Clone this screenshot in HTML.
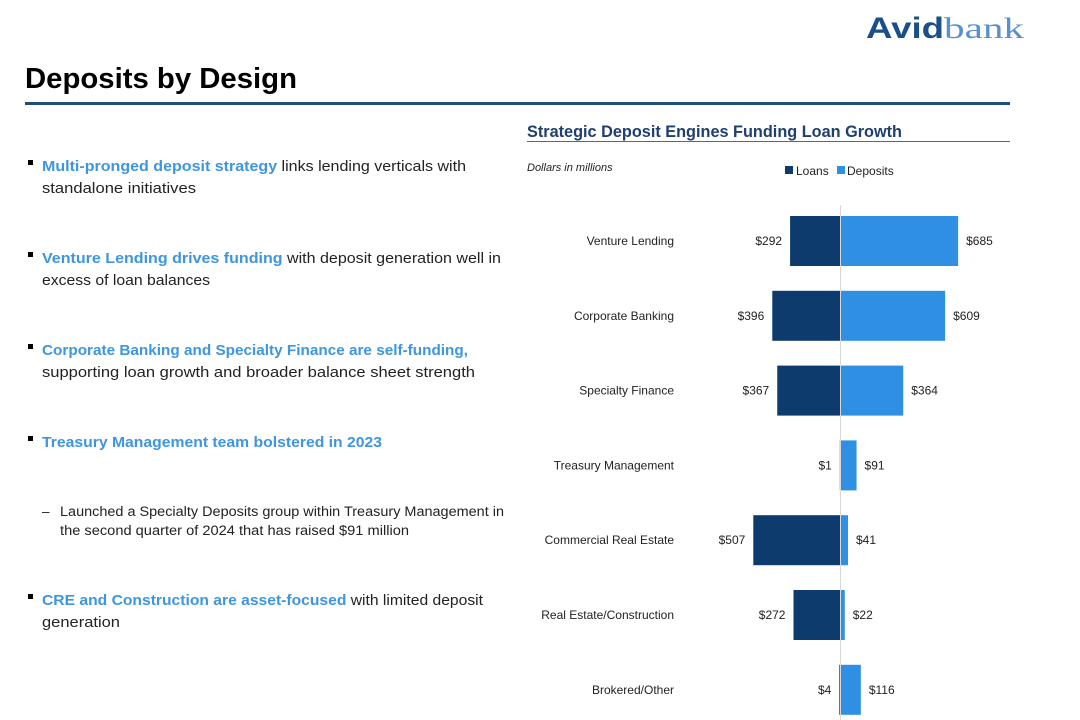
<!DOCTYPE html>
<html><head><meta charset="utf-8"><style>
body{margin:0;background:#fff;width:1080px;height:720px;overflow:hidden}
svg{display:block;font-family:"Liberation Sans",sans-serif}
</style></head><body>
<svg id="s" width="1080" height="720">
<text x="866" y="38" font-size="30" font-weight="bold" fill="#1a4f8a" textLength="78" lengthAdjust="spacingAndGlyphs">Avid</text>
<text x="944" y="38" font-size="30" fill="#5b8fcc" font-family="Liberation Serif,serif" textLength="80" lengthAdjust="spacingAndGlyphs">bank</text>
<text x="25" y="88" font-size="29" font-weight="bold" fill="#000" textLength="272" lengthAdjust="spacingAndGlyphs">Deposits by Design</text>
<rect x="25" y="102" width="985" height="3" fill="#1f4e79"/>

<g font-size="15" fill="#222">
<rect x="28" y="160" width="5" height="5" fill="#000"/>
<text x="42" y="171" textLength="424" lengthAdjust="spacingAndGlyphs"><tspan fill="#3e95e0" font-weight="bold">Multi-pronged deposit strategy</tspan> links lending verticals with</text>
<text x="42" y="193" textLength="154" lengthAdjust="spacingAndGlyphs">standalone initiatives</text>
<rect x="28" y="252" width="5" height="5" fill="#000"/>
<text x="42" y="263" textLength="459" lengthAdjust="spacingAndGlyphs"><tspan fill="#3e95e0" font-weight="bold">Venture Lending drives funding</tspan> with deposit generation well in</text>
<text x="42" y="285" textLength="168" lengthAdjust="spacingAndGlyphs">excess of loan balances</text>
<rect x="28" y="344" width="5" height="5" fill="#000"/>
<text x="42" y="355" textLength="426" lengthAdjust="spacingAndGlyphs" fill="#3e95e0" font-weight="bold">Corporate Banking and Specialty Finance are self-funding,</text>
<text x="42" y="377" textLength="433" lengthAdjust="spacingAndGlyphs">supporting loan growth and broader balance sheet strength</text>
<rect x="28" y="436" width="5" height="5" fill="#000"/>
<text x="42" y="447" textLength="340" lengthAdjust="spacingAndGlyphs" fill="#3e95e0" font-weight="bold">Treasury Management team bolstered in 2023</text>
<text x="42" y="516" font-size="13.5">–</text>
<text x="60" y="516" font-size="13.5" textLength="444" lengthAdjust="spacingAndGlyphs">Launched a Specialty Deposits group within Treasury Management in</text>
<text x="60" y="535" font-size="13.5" textLength="349" lengthAdjust="spacingAndGlyphs">the second quarter of 2024 that has raised $91 million</text>
<rect x="28" y="594" width="5" height="5" fill="#000"/>
<text x="42" y="605" textLength="441" lengthAdjust="spacingAndGlyphs"><tspan fill="#3e95e0" font-weight="bold">CRE and Construction are asset-focused</tspan> with limited deposit</text>
<text x="42" y="627" textLength="78" lengthAdjust="spacingAndGlyphs">generation</text>
</g>

<text x="527" y="137" font-size="16.5" font-weight="bold" fill="#1f3f6e" textLength="375" lengthAdjust="spacingAndGlyphs">Strategic Deposit Engines Funding Loan Growth</text>
<rect x="527" y="141" width="483" height="1" fill="#4a6a96"/>
<text x="527" y="171" font-size="11" font-style="italic" fill="#222">Dollars in millions</text>
<g font-size="12" fill="#222">
<rect x="785" y="166" width="8" height="8" fill="#0d3b6e"/>
<text x="796" y="175">Loans</text>
<rect x="837" y="166" width="8" height="8" fill="#2e8fe3"/>
<text x="847" y="175">Deposits</text>
</g>
<g id="chart"></g>
</svg>
<script>
const categories=["Venture Lending","Corporate Banking","Specialty Finance","Treasury Management","Commercial Real Estate","Real Estate/Construction","Brokered/Other"];
const loans=[292,396,367,1,507,272,4];
const deposits=[685,609,364,91,41,22,116];
const NS="http://www.w3.org/2000/svg";
const g=document.getElementById('chart');
const x0=840,k=0.171,top0=241,step=74.8,bh=50;
const xs=v=>v*k;
const yc=i=>top0+i*step;
function mk(t,a){const e=document.createElementNS(NS,t);for(const p in a)e.setAttribute(p,a[p]);g.appendChild(e);return e;}
categories.forEach((c,i)=>{
  const y=yc(i);
  const l=mk('text',{x:674,y:y+4,'font-size':12,'text-anchor':'end',fill:'#222'});
  l.textContent=c;
  
  
  const lb=mk('rect',{x:x0-xs(loans[i]),y:y-bh/2,width:xs(loans[i]),height:bh,fill:'#0d3b6e'});
  
  
  const db=mk('rect',{x:x0+1,y:y-bh/2,width:xs(deposits[i]),height:bh,fill:'#2e8fe3'});
  
  
  const lt=mk('text',{x:x0-xs(loans[i])-8,y:y+4,'font-size':12,'text-anchor':'end',fill:'#222'});
  lt.textContent='$'+loans[i];
  
  
  const dt=mk('text',{x:x0+1+xs(deposits[i])+8,y:y+4,'font-size':12,fill:'#222'});
  dt.textContent='$'+deposits[i];
  
  
});
const ax=mk('rect',{x:x0,y:205,width:1,height:515,fill:'#d8d8d8'});


</script>
</body></html>
